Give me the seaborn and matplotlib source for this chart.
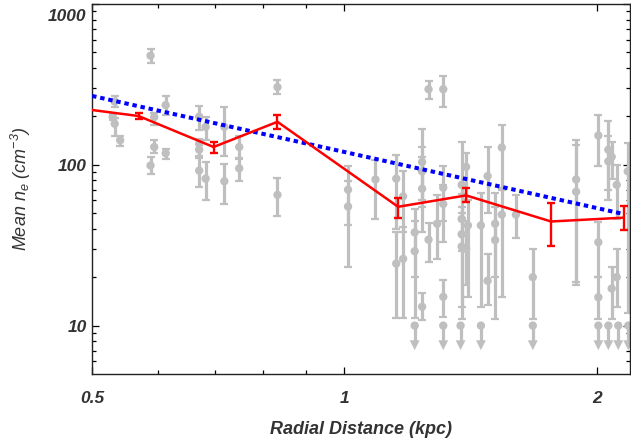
import numpy as np
import pandas as pd
import matplotlib
matplotlib.use("Agg")
import matplotlib.pyplot as plt
import matplotlib.transforms as mtransforms
import seaborn as sns
from matplotlib.ticker import FixedLocator, FixedFormatter, NullFormatter

# Individual measurements (grey): radius (kpc), mean n_e, lower / upper end of error bar
det_x = [0.587, 0.532, 0.529, 0.532, 0.540, 0.593, 0.593, 0.587, 0.612, 0.612,
         0.671, 0.683, 0.671, 0.671, 0.671, 0.683, 0.719, 0.719, 0.749, 0.749,
         0.832, 0.832, 1.010, 1.010, 1.089, 1.153, 1.153, 1.175, 1.175, 1.238,
         1.238, 1.238, 1.213, 1.213, 1.238, 1.260, 1.290, 1.260, 1.312, 1.312,
         1.312, 1.312, 1.380, 1.380, 1.380, 1.380, 1.397, 1.404, 1.397, 1.455,
         1.482, 1.482, 1.513, 1.513, 1.541, 1.541, 1.602, 1.678, 1.890, 1.890,
         2.009, 2.009, 2.009, 2.065, 2.065, 2.084, 2.113, 2.084, 2.113, 2.178]
det_y = [477, 247, 198, 180, 142, 198, 129, 99, 235, 118,
         199, 172, 135, 124, 92, 82, 172, 79, 129, 95,
         304, 65, 70, 55, 81, 82, 24.3, 63.6, 26, 104,
         91, 71, 38, 29, 13.1, 34.2, 43, 295, 295, 72,
         57, 15.1, 75, 46, 37, 31, 97, 42, 30, 42,
         85, 19, 43, 34, 128, 49, 49, 20, 81, 68,
         152, 33, 15, 124, 105, 112, 75, 17, 20, 91]
det_lo = [430, 230, 190, 151, 131, 177, 118, 87.5, 204, 108,
          165, 143, 125, 114, 73, 60, 113, 57, 108, 79,
          275, 48, 42, 23, 46, 40, 11.2, 38, 11.2, 60,
          55, 38, 20, 11.2, 10.9, 25, 26, 256, 230, 45,
          33, 11.3, 47, 29, 13, 11, 60, 15, 18, 13,
          50, 13.5, 20, 11, 72, 15, 35, 11, 18, 18.6,
          98, 20, 11, 60, 70, 82, 46, 11, 13, 12]
det_hi = [523, 266, 207, 195, 150, 211, 143, 111, 266, 126,
          233, 198, 145, 134, 110, 104, 230, 101, 150, 110,
          337, 83, 98, 79, 107, 115, 38, 91, 41, 167,
          129, 112, 53, 45, 16, 43.4, 65, 334, 357, 98,
          75, 19.1, 138, 66, 55, 50, 118, 60, 45, 67,
          129, 28, 67, 55, 178, 70, 65, 30, 143, 133,
          205, 44, 20, 186, 150, 138, 100, 23, 30, 137]

# Upper limits (grey arrows)
lim_x = [1.213, 1.312, 1.376, 1.455, 1.678, 2.009, 2.065, 2.122, 2.181]
lim_y = [10, 10, 10, 10, 10, 10, 10, 10, 10]

# Binned mean profile (red)
red_x = [0.49, 0.568, 0.698, 0.832, 1.159, 1.397, 1.764, 2.154]
red_y = [222, 201, 129, 185, 54.8, 64.5, 44.4, 46.9]
red_lo = [213, 193, 119, 168, 46.4, 58.3, 31.1, 39.1]
red_hi = [231, 209, 138, 204, 62.1, 71.2, 57.8, 55.1]

# Power-law fit (blue)
fit_x = [0.5, 2.154]
fit_y = [268, 49.4]

sns.set_style("ticks")
plt.rcParams['font.family'] = ['Liberation Sans', 'DejaVu Sans']
plt.rcParams['mathtext.fontset'] = 'custom'
plt.rcParams['mathtext.rm'] = 'Liberation Sans:italic'
plt.rcParams['mathtext.it'] = 'Liberation Sans:italic'

gray = '#bfbfbf'
txt = '#333333'

fig, ax = plt.subplots(figsize=(6.31, 4.40), dpi=100)
fig.subplots_adjust(left=0.146, right=0.998, top=0.991, bottom=0.15)

det = pd.DataFrame({'x': det_x, 'y': det_y, 'lo': det_lo, 'hi': det_hi})
ax.errorbar(det['x'], det['y'], yerr=[det['y'] - det['lo'], det['hi'] - det['y']],
            fmt='none', ecolor=gray, elinewidth=2.3, capsize=3.0, capthick=1.6, zorder=1)
sns.scatterplot(data=det, x='x', y='y', color=gray, s=36, edgecolor='none',
                ax=ax, zorder=2, legend=False)

# upper limits: dot at the limit, line down to an arrow head
lims = pd.DataFrame({'x': lim_x, 'y': lim_y})
ax.vlines(lims['x'], lims['y'] * 0.78, lims['y'], color=gray, lw=2.3, zorder=1)
sns.scatterplot(data=lims, x='x', y='y', color=gray, s=36, edgecolor='none',
                ax=ax, zorder=2, legend=False)
ax.scatter(lims['x'], lims['y'] * 0.755, marker='v', s=50, color=gray,
           edgecolor='none', zorder=2)

sns.lineplot(x=fit_x, y=fit_y, color='#0000ff', lw=2.9, ax=ax, zorder=3,
             linestyle=(0, (1.1, 0.95)), sort=False)

red = pd.DataFrame({'x': red_x, 'y': red_y, 'lo': red_lo, 'hi': red_hi})
sns.lineplot(data=red, x='x', y='y', color='#ff0000', lw=1.8, ax=ax, zorder=4, sort=False)
ax.errorbar(red['x'], red['y'], yerr=[red['y'] - red['lo'], red['hi'] - red['y']],
            fmt='none', ecolor='#ff0000', elinewidth=1.7, capsize=2.6, capthick=1.7, zorder=4)

ax.set_xscale('log')
ax.set_yscale('log')
ax.set_xlim(0.5, 2.19)
ax.set_ylim(5, 1000)

ax.xaxis.set_major_locator(FixedLocator([0.5, 1, 2]))
ax.xaxis.set_major_formatter(FixedFormatter(['0.5', '1', '2']))
ax.xaxis.set_minor_locator(FixedLocator([0.6, 0.7, 0.8, 0.9]))
ax.xaxis.set_minor_formatter(NullFormatter())
ax.yaxis.set_major_locator(FixedLocator([10, 100, 1000]))
ax.yaxis.set_major_formatter(FixedFormatter(['10', '100', '1000']))
ax.yaxis.set_minor_locator(FixedLocator([6, 7, 8, 9, 20, 30, 40, 50, 60, 70, 80, 90,
                                         200, 300, 400, 500, 600, 700, 800, 900]))
ax.yaxis.set_minor_formatter(NullFormatter())

ax.tick_params(which='both', direction='in', top=True, right=True, color='black', width=0.9)
ax.tick_params(which='major', length=5)
ax.tick_params(which='minor', length=3)
ax.tick_params(axis='x', which='major', pad=12)
ax.tick_params(axis='y', which='major', pad=4)
for lab in ax.get_xticklabels() + ax.get_yticklabels():
    lab.set_fontsize(12.5)
    lab.set_fontweight('bold')
    lab.set_fontstyle('italic')
    lab.set_color(txt)

# the top label sits a little below its tick so it stays inside the figure
fig.canvas.draw()
top_lab = ax.yaxis.get_majorticklabels()[-1]
top_lab.set_transform(top_lab.get_transform() +
                      mtransforms.ScaledTranslation(0, -8 / 72, fig.dpi_scale_trans))

for sp in ax.spines.values():
    sp.set_color('#222222')
    sp.set_linewidth(1.0)

ax.set_xlabel('Radial Distance (kpc)', fontsize=13, fontweight='bold',
              fontstyle='italic', color=txt, labelpad=11)
ax.set_ylabel(r'Mean $n_e$ (cm$^{-3}$)', fontsize=13, fontstyle='italic',
              color=txt, labelpad=11)

plt.savefig('out.png', dpi=100)
